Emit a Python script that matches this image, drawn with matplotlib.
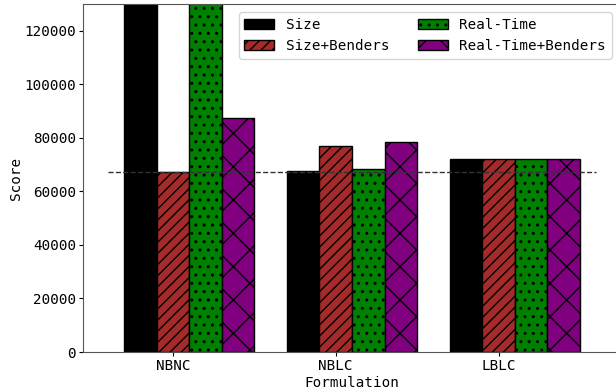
import numpy as np
import matplotlib.pyplot as plt

plt.rcParams['font.family'] = 'DejaVu Sans Mono'
plt.rcParams['font.size'] = 10.3
plt.rcParams['hatch.linewidth'] = 1.0

# scores per formulation
formulations = ['NBNC', 'NBLC', 'LBLC']
size = [150000, 67500, 72000]
size_benders = [67200, 76800, 72000]
real_time = [145000, 68200, 72000]
real_time_benders = [87300, 78400, 72000]
baseline = 67100

series = [
    ('Size', size, 'black', ''),
    ('Size+Benders', size_benders, 'brown', '///'),
    ('Real-Time', real_time, 'green', '..'),
    ('Real-Time+Benders', real_time_benders, 'purple', 'x'),
]

fig = plt.figure(figsize=(6.16, 3.92), dpi=100)
ax = fig.add_axes([83 / 616, 40 / 392, 538 / 616, 348 / 392])

x = np.arange(len(formulations))
width = 0.2
for i, (name, vals, color, hatch) in enumerate(series):
    ax.bar(x + (i - 1) * width, vals, width, color=color, hatch=hatch,
           edgecolor='black', linewidth=1, label=name)

ax.hlines(baseline, -0.4, 2.6, colors='#333333', linestyles='--', linewidth=1)

ax.set_xticks(x)
ax.set_xticklabels(formulations)
ax.set_ylim(0, 130000)
ax.set_xlim(-0.552, 2.752)
ax.tick_params(length=3, pad=2)
ax.set_xlabel('Formulation', labelpad=2)
ax.set_ylabel('Score', labelpad=1)
for sp in ax.spines.values():
    sp.set_color('#555555')

ax.legend(ncol=2, loc='upper right', bbox_to_anchor=(619 / 616, 1 - 5 / 392),
          bbox_transform=fig.transFigure, handlelength=2.1, columnspacing=2.0)

fig.savefig('out.png', dpi=100)
